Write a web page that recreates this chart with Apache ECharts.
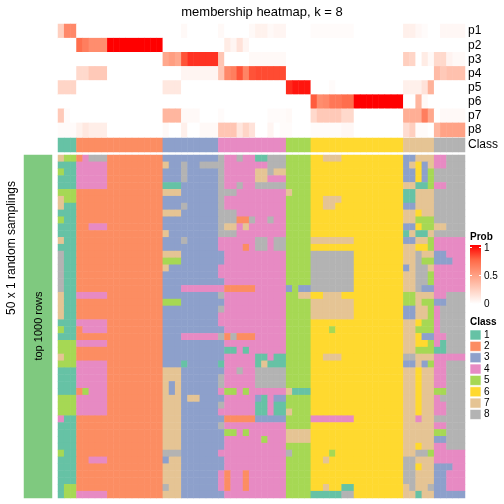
<!DOCTYPE html>
<html><head><meta charset="utf-8">
<script src="https://cdn.jsdelivr.net/npm/echarts@6/dist/echarts.min.js"></script>
<style>html,body{margin:0;padding:0;background:#fff}#c{width:504px;height:504px}</style>
</head><body><div id="c"></div>
<script>
// ---------- data ----------
const titleText = 'membership heatmap, k = 8';
const rowTitle = '50 x 1 random samplings';
const rowSplitLabel = 'top 1000 rows';
const classLabels = ['1','2','3','4','5','6','7','8'];
const classColors = ['#66C2A5','#FC8D62','#8DA0CB','#E78AC3','#A6D854','#FFD92F','#E5C494','#B3B3B3'];
const probNames = ['p1','p2','p3','p4','p5','p6','p7','p8'];
const probTicks = ['0','0.5','1'];

// consensus class of each of the 66 samples (top annotation "Class")
const classAnnotation = '111' + '22222222222222' + '333333333' + '44444444444' + '5555' + '666666666666666' + '77777' + '88888';

// membership probabilities (one array per class, 66 samples)
const p1 = [0.25,0.6,0.6, 0,0,0,0,0, 0,0,0,0,0,0,0,0,0, 0,0,0,0.03,0,0,0,0,0, 0.03,0,0,0,0,0.03,0.07,0.07,0.03,0.05,0.05, 0,0,0,0, 0.02,0.02,0.02,0.02,0.02,0.02,0.02, 0,0,0,0,0,0,0,0, 0.08,0.08,0.04,0.02,0, 0,0.04,0.04,0.04,0.04];
const p2 = [0,0,0, 0.72,0.65,0.58,0.58,0.58, 1,1,1,1,1,1,1,1,1, 0,0,0,0,0,0,0,0,0, 0,0.1,0.05,0.15,0.05,0,0,0,0,0,0, 0,0,0,0, 0,0,0,0,0,0,0, 0,0,0,0,0,0,0,0, 0,0,0,0,0, 0,0,0,0,0];
const p3 = [0,0,0, 0,0,0,0,0, 0,0,0,0,0,0,0,0,0, 0.45,0.5,0.45,0.8,0.88,0.88,0.88,0.88,0.88, 0.3,0,0,0,0,0.03,0.03,0.03,0.03,0.03,0.03, 0,0,0,0, 0,0,0,0,0,0,0, 0,0,0,0,0,0,0,0, 0.25,0.22,0,0.1,0.03, 0.2,0.2,0.06,0.03,0.03];
const p4 = [0,0,0, 0.2,0.2,0.28,0.28,0.28, 0,0,0,0,0,0,0,0,0, 0,0,0,0.05,0.05,0.05,0.05,0.05,0.05, 0.3,0.6,0.65,0.8,0.62,0.8,0.82,0.82,0.82,0.82,0.82, 0,0,0,0, 0,0,0,0,0,0,0, 0,0,0,0,0,0,0,0, 0,0,0,0,0, 0.35,0.28,0.32,0.32,0.32];
const p5 = [0.22,0.22,0.22, 0,0,0,0,0, 0,0,0,0,0,0,0,0,0, 0.12,0.12,0.12,0,0,0,0,0,0, 0,0,0,0,0,0,0,0,0,0,0, 0.9,0.95,0.95,0.95, 0,0,0,0.02,0,0,0, 0,0,0,0,0,0,0,0, 0.08,0.08,0.08,0.15,0.4, 0,0,0,0,0];
const p6 = [0,0,0, 0,0,0,0,0, 0,0,0,0,0,0,0,0,0, 0,0,0,0,0,0,0,0,0, 0,0,0,0,0,0,0,0,0,0,0, 0,0,0,0, 0.78,0.58,0.6,0.68,0.68,0.72,0.72, 1,1,1,1,1,1,1,1, 0,0,0.38,0.03,0, 0,0,0,0,0];
const p7 = [0.28,0.02,0, 0,0,0,0,0, 0,0,0,0,0,0,0,0,0, 0.38,0.38,0.38,0.03,0.03,0.03,0,0,0, 0.02,0,0,0,0,0,0,0,0.02,0.02,0.02, 0.03,0,0,0, 0.2,0.28,0.28,0.28,0.28,0.2,0.2, 0,0,0,0,0,0,0,0, 0.42,0.42,0.42,0.65,0.45, 0,0.03,0.03,0.03,0.03];
const p8 = [0.02,0.02,0.02, 0.07,0.12,0.09,0.09,0.09, 0,0,0,0,0,0,0,0,0, 0.03,0,0,0.08,0,0,0.03,0.03,0.03, 0.3,0.3,0.3,0.13,0.22,0.15,0,0,0.05,0,0.02, 0.02,0,0,0, 0.02,0.02,0.02,0.02,0.02,0.04,0.04, 0,0,0,0,0,0,0,0, 0.18,0.25,0.02,0.02,0, 0.38,0.48,0.48,0.48,0.48];

// class assigned in each of the 50 random samplings (rows) for each sample (66 columns)
const samplingRows = [
'755|24888|222222222|333333333|84484411888|5555|6677766|66666666|33777|44888',
'111|44444|222222222|733833888|84444444888|5555|6666666|66666666|37637|44888',
'511|44444|222222222|333833333|84444477877|5555|6666666|66666666|33635|88888',
'111|44444|222222222|333833333|84444477444|5555|6666666|66666666|33635|88888',
'111|44444|222222222|111333333|84484488888|5555|6666666|66666666|77115|44888',
'555|22222|222222222|777333333|88844444444|7555|6666666|66666666|11777|88888',
'755|22222|222222222|333333333|84444444444|5555|6677766|66666666|11777|88888',
'711|22222|222222222|333833333|84444444444|5555|6677666|66666666|33777|88888',
'111|22222|222222222|777333333|88844444444|5555|6666666|66666666|77677|88888',
'511|22222|222222222|333333333|88822844844|5555|6666666|66666666|77555|88888',
'111|22444|222222222|333333333|87747444444|5555|6666666|66666666|33655|77888',
'111|22222|222222222|733333333|88844444444|5555|6666666|66666666|17117|88888',
'711|22222|222222222|333833333|44444488488|5555|7777777|66666666|33775|44444',
'111|22222|222222222|333333333|44442488488|5555|6666666|66666666|77665|44444',
'811|22222|222222222|777333333|34444444444|5555|8888888|66666666|77877|33444',
'811|22222|222222222|555333333|34444444444|5555|8888888|66666666|77855|33344',
'811|22222|222222222|733333333|44444444444|5555|8888888|66666666|37887|44444',
'811|22222|222222222|333333333|44444444444|5555|8888888|66666666|77885|44444',
'811|22222|222222222|333333333|34444444444|5555|8888888|66666666|77885|44444',
'811|22222|222222222|333444444|42222244444|3533|8888888|66666666|77833|44444',
'711|44444|222222222|333333333|84444444444|5577|6677766|66666666|55777|44888',
'711|22222|222222222|555333333|34444444444|5555|7777777|66666666|55755|33888',
'711|22222|222222222|333333333|84444444444|5555|7777777|66666666|33775|48888',
'711|22222|222222222|333333333|44444444444|5555|7777777|66666666|33775|48888',
'111|44444|222222222|333333333|44444444444|5555|6666666|66666666|77655|48888',
'511|24444|222222222|333333333|34444444444|5555|6665666|66666666|77555|48888',
'111|22222|222222222|333444444|82822244444|5555|6666666|66666666|77633|44888',
'555|44444|222222222|333333333|34444444444|5555|6666666|66666666|77665|41888',
'555|22222|222222222|333333333|31141444444|5555|6666666|66666666|77555|11888',
'755|22222|222222222|333333333|34444411411|5555|6677766|66666666|88777|44444',
'555|44444|222222222|333133333|14444417111|5555|6666666|66666666|33735|44888',
'111|44444|222222222|777333333|34484488888|5555|6666666|66666666|77677|44888',
'111|44444|222222222|777333333|84444488888|5555|6666666|66666666|77677|44888',
'111|44444|222222222|737333333|84444488888|5555|6666666|66666666|77677|44888',
'111|25444|222222222|737333333|45545444444|7111|6666666|66666666|77677|55888',
'555|44444|222222222|777377333|34444431433|5555|6666666|66666666|77677|48888',
'555|44444|222222222|777333333|84444411411|5555|6666666|66666666|77677|44888',
'555|44444|222222222|777333333|44444411411|7555|6666666|66666666|77677|44888',
'411|22222|222222222|777333333|32222233333|5555|4444444|66666666|77477|88888',
'111|22222|222222222|777333333|84444444444|5555|6666666|66666666|77777|44888',
'111|22222|222222222|777333333|35545444444|7777|6666666|66666666|77777|55888',
'111|22222|222222222|777333333|34444445444|7777|6666666|66666666|77777|33888',
'111|22222|222222222|777333333|34444444444|5555|6666666|66666666|77677|44888',
'511|22222|222222222|888333333|44444444444|8555|6665666|66666666|77885|44444',
'111|22444|222222222|377333333|34444444444|5555|6676666|66666666|88777|44444',
'111|22222|222222222|777333333|34444444444|5555|6666666|66666666|88677|33344',
'111|22222|222222222|777333333|42442444444|5555|6666666|66666666|88777|33444',
'111|22222|222222222|777333333|42442444444|5555|6666666|66666666|88777|33444',
'155|22222|222222222|877333333|42442444444|5555|6676611|66666666|78778|33444',
'155|44444|222222222|777333333|34444444444|5555|1111188|66666666|77177|33333'
];

// ---------- build ----------
const FONT = '"Liberation Sans", Arial, Helvetica, sans-serif';
const probs = [p1,p2,p3,p4,p5,p6,p7,p8];
const nCols = classAnnotation.length;
const colIdx = Array.from({length:nCols},(_,i)=>String(i));
const rowIdx = samplingRows.map((_,i)=>String(i));

const mainData = [];
samplingRows.forEach((s,r)=>{
  const row = s.replace(/\|/g,'');
  for (let c=0;c<row.length;c++) mainData.push([c,r,+row[c]]);
});
const probData = [];
probs.forEach((arr,r)=>arr.forEach((v,c)=>probData.push([c,r,v])));
const annData = classAnnotation.split('').map((v,c)=>[c,0,+v]);

const probStops = ['#FFFFFF','#FFCFBF','#FF9E81','#FF6846','#FF0000'];

const GL = 58, GW = 407;
const grids = [
  {left:GL, top:155, width:GW, height:343},
  {left:GL, top:24, width:GW, height:113},
  {left:GL, top:138, width:GW, height:14},
  {left:24, top:155, width:28, height:343}
];
const hiddenCat = (data, gi, inv) => ({type:'category', gridIndex:gi, data, show:false, inverse:!!inv, boundaryGap:true});
const labelCat = (data, gi) => ({type:'category', gridIndex:gi, data, inverse:true, position:'right',
  axisLine:{show:false}, axisTick:{show:false}, splitLine:{show:false},
  axisLabel:{show:true, interval:0, color:'#000', fontSize:12, fontFamily:FONT, margin:3}});

const hm = (xi, yi, data) => ({type:'heatmap', xAxisIndex:xi, yAxisIndex:yi, data,
  itemStyle:{borderWidth:0}, emphasis:{disabled:true}, progressive:0, animation:false});

// legends and titles
const lgX = 470;
const graphics = [
  {type:'text', z:100, x:262, y:12, style:{text:titleText, align:'center', verticalAlign:'middle', font:'13px '+FONT, fill:'#000'}},
  {type:'text', z:100, x:12, y:248, rotation:Math.PI/2, style:{text:rowTitle, align:'center', verticalAlign:'middle', font:'12px '+FONT, fill:'#000'}},
  {type:'text', z:100, x:39, y:326, rotation:Math.PI/2, style:{text:rowSplitLabel, align:'center', verticalAlign:'middle', font:'11px '+FONT, fill:'#000'}},
  {type:'text', z:100, x:lgX, y:237, style:{text:'Prob', align:'left', verticalAlign:'middle', font:'bold 10px '+FONT, fill:'#000'}},
  {type:'rect', z:100, shape:{x:lgX, y:245, width:11, height:59}, style:{fill:{type:'linear', x:0, y:0, x2:0, y2:1,
    colorStops:probStops.slice().reverse().map((c,i)=>({offset:i/(probStops.length-1), color:c}))}}},
  {type:'text', z:100, x:lgX, y:322, style:{text:'Class', align:'left', verticalAlign:'middle', font:'bold 10px '+FONT, fill:'#000'}}
];
probTicks.forEach((t,i)=>{
  const y = 304 - i*28;
  graphics.push({type:'text', z:100, x:484, y:y, style:{text:t, align:'left', verticalAlign:'middle', font:'10px '+FONT, fill:'#000'}});
  graphics.push({type:'line', z:101, shape:{x1:lgX, y1:y-0.5, x2:lgX+2, y2:y-0.5}, style:{stroke:'#fff', lineWidth:1}});
  graphics.push({type:'line', z:101, shape:{x1:lgX+9, y1:y-0.5, x2:lgX+11, y2:y-0.5}, style:{stroke:'#fff', lineWidth:1}});
});
classLabels.forEach((lab,i)=>{
  const yc = 335 + i*11.35;
  graphics.push({type:'rect', z:100, shape:{x:lgX, y:yc-5, width:11, height:10}, style:{fill:classColors[i], stroke:'#fff', lineWidth:0.6}});
  graphics.push({type:'text', z:100, x:484, y:yc, style:{text:lab, align:'left', verticalAlign:'middle', font:'10px '+FONT, fill:'#000'}});
});

const option = {
  animation:false,
  backgroundColor:'#fff',
  grid: grids,
  xAxis: [hiddenCat(colIdx,0), hiddenCat(colIdx,1), hiddenCat(colIdx,2), hiddenCat(['bar'],3)],
  yAxis: [hiddenCat(rowIdx,0,true), labelCat(probNames,1), labelCat(['Class'],2), hiddenCat(['bar'],3)],
  visualMap: [
    {type:'piecewise', show:false, seriesIndex:[0,2], dimension:2,
      pieces: classColors.map((c,i)=>({value:i+1, color:c}))},
    {type:'continuous', show:false, seriesIndex:1, dimension:2, min:0, max:1, inRange:{color:probStops}},
    {type:'piecewise', show:false, seriesIndex:3, dimension:2, pieces:[{value:1, color:'#7FC97F'}]}
  ],
  series: [hm(0,0,mainData), hm(1,1,probData), hm(2,2,annData), hm(3,3,[[0,0,1]])],
  graphic: graphics
};
const chart = echarts.init(document.getElementById('c'));
chart.setOption(option);
</script>
</body></html>
